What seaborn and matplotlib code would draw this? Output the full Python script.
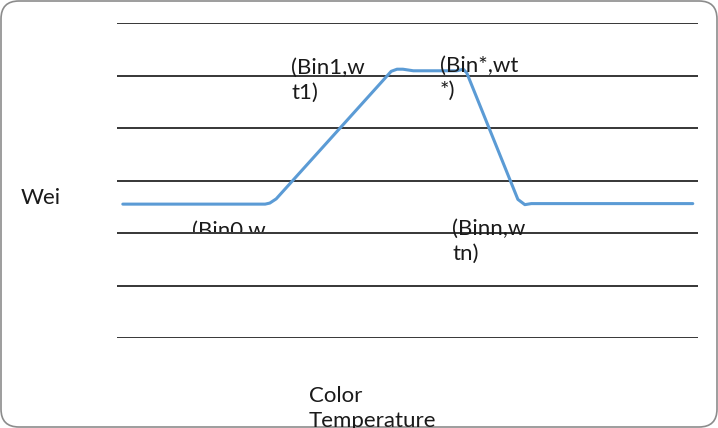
import numpy as np
import pandas as pd
import matplotlib.pyplot as plt
import seaborn as sns
from matplotlib.patches import FancyBboxPatch
from matplotlib.transforms import Bbox

# curve (x: 0-100 across the plot, y: gridline units 0-6)
temp = [1.0, 25.5, 26.3, 27.4, 47.2, 48.2, 49.2, 51.0, 58.5, 59.6, 60.2, 69.0, 70.2, 71.3, 99.1]
weight = [2.55, 2.55, 2.57, 2.65, 5.08, 5.12, 5.12, 5.09, 5.09, 5.12, 5.05, 2.64, 2.54, 2.56, 2.56]
df = pd.DataFrame({'temp': temp, 'weight': weight})

labels = ['(Bin1,w\nt1)', '(Bin*,wt\n*)', '(Bin0,w\nt0)', '(Binn,w\ntn)']
y_label = 'Wei'
x_label = 'Color\nTemperature'

W, H = 718, 428
sns.set_style('white')
plt.rcParams['font.family'] = ['Lato', 'DejaVu Sans']

fig = plt.figure(figsize=(W / 100, H / 100), dpi=100)
ax = fig.add_axes([117 / W, (H - 338) / H, (698 - 117) / W, (338 - 23) / H])

sns.lineplot(data=df, x='temp', y='weight', ax=ax, color='#5B9BD5', linewidth=2.2)

ax.set_xlim(0, 100)
ax.set_ylim(0, 6)
ax.set_yticks(range(7))
ax.set_xticks([])
ax.grid(axis='y', color='black', linewidth=1.1)
ax.tick_params(left=False, labelleft=False, bottom=False)
ax.set_xlabel('')
ax.set_ylabel('')
for s in ax.spines.values():
    s.set_visible(False)

def px_text(x, y, s, clip_bottom=None):
    # x, y: top-left in image pixels
    t = fig.text(x / W, 1 - y / H, s, ha='left', va='top', fontsize=16,
                 linespacing=1.3, color='#1a1a1a')
    if clip_bottom is not None:
        t.set_clip_box(Bbox([[0, H - clip_bottom], [W, H]]))
        t.set_clip_on(True)
    return t

px_text(291, 58, labels[0])
px_text(440, 56, labels[1])
px_text(192, 221, labels[2], clip_bottom=232)
px_text(452, 219, labels[3])
px_text(21, 188, y_label)
px_text(309, 386, x_label, clip_bottom=428)

border = FancyBboxPatch((1 / W, 1 / H), (W - 2) / W, (H - 2) / H,
                        boxstyle='round,pad=0,rounding_size=0.025',
                        transform=fig.transFigure, facecolor='none',
                        edgecolor='#8c8c8c', linewidth=1.2, mutation_aspect=W / H)
fig.patches.append(border)

fig.savefig('out.png', dpi=100)
